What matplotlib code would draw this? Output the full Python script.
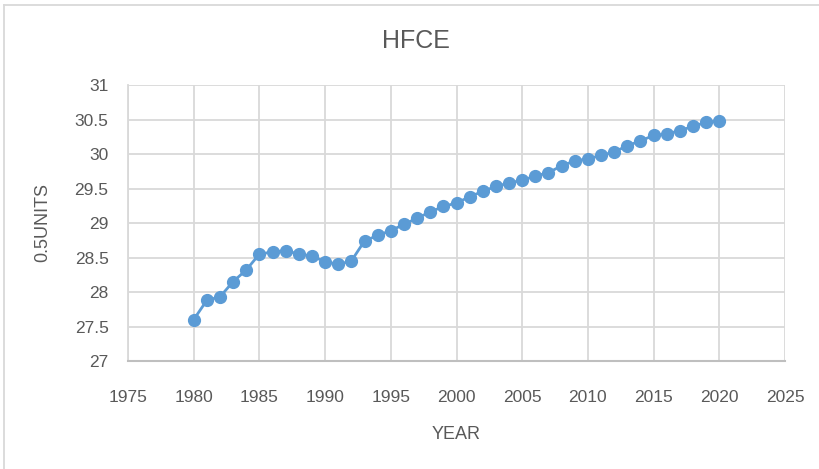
import matplotlib
matplotlib.use("Agg")
import matplotlib.pyplot as plt
from matplotlib.lines import Line2D

plt.rcParams["font.family"] = ["Liberation Sans", "DejaVu Sans"]

years = list(range(1980, 2021))
hfce = [
    27.60, 27.88, 27.93, 28.15, 28.32, 28.55, 28.58, 28.60, 28.55, 28.52,
    28.44, 28.40, 28.45, 28.74, 28.82, 28.89, 28.98, 29.07, 29.16, 29.24,
    29.29, 29.38, 29.46, 29.53, 29.58, 29.62, 29.68, 29.73, 29.83, 29.90,
    29.93, 29.98, 30.03, 30.12, 30.19, 30.27, 30.29, 30.34, 30.40, 30.46,
    30.48,
]
x_ticks = list(range(1975, 2030, 5))
y_ticks = [27, 27.5, 28, 28.5, 29, 29.5, 30, 30.5, 31]
y_tick_labels = ["27", "27.5", "28", "28.5", "29", "29.5", "30", "30.5", "31"]

text_color = "#595959"
grid_color = "#d9d9d9"
line_color = "#5b9bd5"

fig = plt.figure(figsize=(8.2, 4.69), dpi=100)
ax = fig.add_axes([128 / 820, 108 / 469, 657 / 820, 276 / 469])

ax.plot(years, hfce, color=line_color, linewidth=2.0, marker="o",
        markersize=8.5, markerfacecolor=line_color, markeredgecolor=line_color,
        zorder=3)

ax.set_xlim(1975, 2025)
ax.set_ylim(27, 31)
ax.set_xticks(x_ticks)
ax.set_yticks(y_ticks)
ax.set_yticklabels(y_tick_labels)
ax.tick_params(axis="both", length=0, labelsize=12.5, labelcolor=text_color)
ax.tick_params(axis="x", pad=21)
ax.tick_params(axis="y", pad=14)

ax.grid(True, color=grid_color, linewidth=1.3)
ax.set_axisbelow(True)
for side in ["top", "right"]:
    ax.spines[side].set_visible(False)
ax.spines["left"].set_color(grid_color)
ax.spines["left"].set_linewidth(1.3)
ax.spines["bottom"].set_color("#bfbfbf")
ax.spines["bottom"].set_linewidth(1.5)

fig.text(416 / 820, 1 - 41 / 469, "HFCE", fontsize=18, color=text_color,
         ha="center", va="center")
fig.text(456 / 820, 1 - 434 / 469, "YEAR", fontsize=13, color=text_color,
         ha="center", va="center")
fig.text(43 / 820, 1 - 223 / 469, "0.5UNITS", fontsize=13, color=text_color,
         ha="center", va="center", rotation=90)

# chart border (left and top edges visible in the crop)
fig.add_artist(Line2D([3.5 / 820, 3.5 / 820], [0, 1 - 5 / 469],
                      transform=fig.transFigure, color=grid_color, linewidth=1.3))
fig.add_artist(Line2D([3.5 / 820, 1], [1 - 5 / 469, 1 - 5 / 469],
                      transform=fig.transFigure, color=grid_color, linewidth=1.3))

fig.savefig("out.png", dpi=100)
